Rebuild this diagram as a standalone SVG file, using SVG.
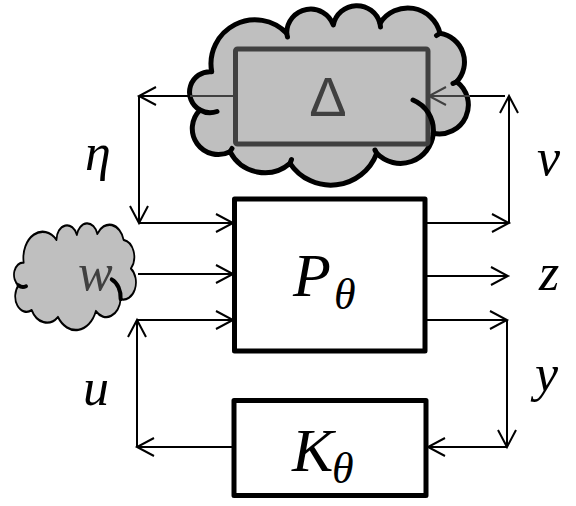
<svg xmlns="http://www.w3.org/2000/svg" width="576" height="506" viewBox="0 0 576 506">
<style>
.ln{fill:none;stroke:#000;stroke-width:2}
.lg{fill:none;stroke:#404040;stroke-width:2}
.box{fill:none;stroke:#000;stroke-width:5;stroke-linejoin:round}
.cloud{fill:#bfbfbf;stroke:#000;stroke-linejoin:round}
.tail{fill:none;stroke:#000;stroke-linecap:round}
.lbl{font-family:"Liberation Serif","DejaVu Serif",serif;font-style:italic;fill:#000}
</style>
<defs>
<marker id="a" viewBox="-19 -11 21 22" markerWidth="21" markerHeight="22" refX="0" refY="0" orient="auto" markerUnits="userSpaceOnUse" overflow="visible">
<path d="M-17,-9 L0,0 L-17,9" fill="none" stroke="#000" stroke-width="2"/>
</marker>
<marker id="ag" viewBox="-19 -11 21 22" markerWidth="21" markerHeight="22" refX="0" refY="0" orient="auto" markerUnits="userSpaceOnUse" overflow="visible">
<path d="M-17,-9 L0,0 L-17,9" fill="none" stroke="#404040" stroke-width="2"/>
</marker>
<path id="cl" d="M211.7,71.7 A44 44 0 0 1 286.7,33.3 A24 24 0 0 1 333.3,25 A24 24 0 0 1 380,23.3 A33 33 0 0 1 440,33.3 A29 29 0 0 1 456.7,81.7 A29 29 0 0 1 433.3,133.3 A33 33 0 0 1 376.7,153.3 A49 49 0 0 1 290,163.3 A39 39 0 0 1 230,151.7 A26 26 0 0 1 200,110 A20.5 20.5 0 0 1 211.7,71.7 Z"/>
<path id="tl" d="M413,100 A33 33 0 0 1 433.3,133.3 M200,110 A20.5 20.5 0 0 0 217,111.5 M286.7,33.3 L287.5,37 M380,23.3 L380.5,27 M440,33.3 L436.5,35.5 M456.7,81.7 L453,83.5 M230,151.7 L232,148.5 M290,163.3 L291.5,159.5 M376.7,153.3 L375,150"/>
</defs>

<g id="connectors">
<line class="ln" x1="188" y1="96" x2="139" y2="96" marker-end="url(#a)"/>
<line class="ln" x1="139" y1="96" x2="139" y2="223" marker-end="url(#a)"/>
<line class="ln" x1="139" y1="223" x2="233" y2="223" marker-end="url(#a)"/>
<line class="ln" x1="138" y1="274" x2="233" y2="274" marker-end="url(#a)"/>
<line class="ln" x1="137" y1="447" x2="137" y2="320" marker-end="url(#a)"/>
<line class="ln" x1="137" y1="320" x2="233" y2="320" marker-end="url(#a)"/>
<line class="ln" x1="233" y1="447" x2="137" y2="447" marker-end="url(#a)"/>
<line class="ln" x1="426" y1="223" x2="509" y2="223" marker-end="url(#a)"/>
<line class="ln" x1="509" y1="223" x2="509" y2="96" marker-end="url(#a)"/>
<line class="ln" x1="505" y1="96" x2="468" y2="96"/>
<line class="ln" x1="426" y1="276" x2="508" y2="276" marker-end="url(#a)"/>
<line class="ln" x1="426" y1="320" x2="507" y2="320" marker-end="url(#a)"/>
<line class="ln" x1="507" y1="320" x2="507" y2="447" marker-end="url(#a)"/>
<line class="ln" x1="507" y1="447" x2="428" y2="447" marker-end="url(#a)"/>
</g>

<g id="delta">
<use href="#cl" class="cloud" stroke-width="5"/>
<line class="lg" x1="235" y1="96" x2="190" y2="96"/>
<line class="lg" x1="470" y1="96" x2="429" y2="96" marker-end="url(#ag)"/>
<rect x="235.5" y="49" width="192.5" height="95" rx="2" fill="none" stroke="#404040" stroke-width="5"/>
<text x="328" y="116" text-anchor="middle" font-family="'Liberation Sans','DejaVu Sans',sans-serif" font-size="56" fill="#404040">Δ</text>
<use href="#tl" class="tail" stroke-width="5"/>
</g>

<g id="w">
<g transform="translate(-68.94,220.03) scale(0.4375,0.594)">
<use href="#cl" class="cloud" stroke-width="4" style="vector-effect:non-scaling-stroke"/>
</g>
<text class="lbl" x="78" y="290" font-size="52" style="fill:#404040">w</text>
<g transform="translate(-68.94,220.03) scale(0.4375,0.594)">
<path d="M413,100 A33 33 0 0 1 433.3,133.3 M200,110 A20.5 20.5 0 0 0 217,111.5" class="tail" stroke-width="4" style="vector-effect:non-scaling-stroke"/>
</g>
</g>

<g id="P">
<rect class="box" x="234.5" y="199" width="190.5" height="152"/>
<text class="lbl" x="293" y="296" font-size="62">P</text>
<text class="lbl" x="334" y="309" font-size="44">θ</text>
</g>

<g id="K">
<rect class="box" x="234" y="400.5" width="192" height="95"/>
<text class="lbl" x="292" y="471" font-size="62">K</text>
<text class="lbl" x="332" y="483" font-size="44">θ</text>
</g>

<g id="labels">
<text class="lbl" x="85" y="170" font-size="52">η</text>
<text class="lbl" x="537" y="175" font-size="52">v</text>
<text class="lbl" x="539" y="290" font-size="52">z</text>
<text class="lbl" x="535" y="391" font-size="52">y</text>
<text class="lbl" x="83" y="405" font-size="52">u</text>
</g>
</svg>
